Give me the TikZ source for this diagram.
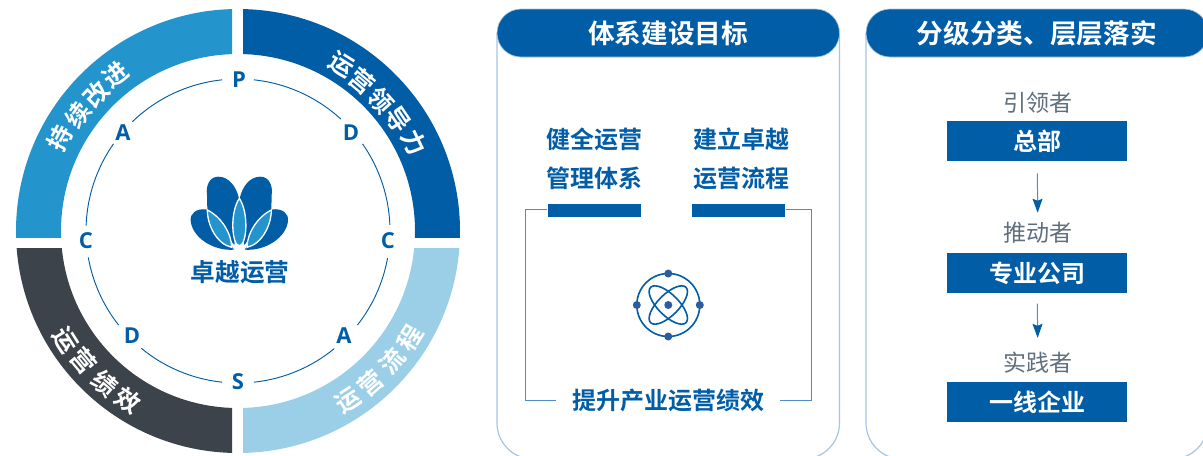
\documentclass[tikz,border=0pt]{standalone}
\usepackage{fontspec}
\usetikzlibrary{arrows.meta}
\setmainfont{Noto Sans CJK SC}[BoldFont={* Bold}]
\newfontfamily\latinb{Open Sans}[BoldFont={* Bold}]
\definecolor{mainblue}{HTML}{005DA6}
\definecolor{midblue}{HTML}{2394CC}
\definecolor{paleblue}{HTML}{9BCFE7}
\definecolor{darkslate}{HTML}{3C434B}
\definecolor{greytext}{HTML}{5F6F7F}
\definecolor{panelline}{HTML}{A5C5E0}
\definecolor{frameline}{HTML}{4F8CC4}
\definecolor{dotblue}{HTML}{2B5C9E}
\def\ringfill#1#2#3#4#5{%
  \begin{scope}
    \clip (#2,#3) rectangle (#4,#5);
    \fill[#1,even odd rule] (238,231) circle (222) (238,231) circle (177);
  \end{scope}}
\tikzset{
  x=0.75pt,y=-0.75pt,
  ringtext/.style={font=\fontsize{18.5}{20}\selectfont\bfseries,text=white,inner sep=0pt},
  pdca/.style={font=\latinb\fontsize{16.5}{18}\selectfont\bfseries,text=mainblue,inner sep=0pt},
  thinarc/.style={draw=mainblue,line width=0.7pt},
  header/.style={fill=mainblue,draw=panelline,line width=0.5pt,rounded corners=18pt},
  headtext/.style={font=\fontsize{20}{22}\selectfont\bfseries,text=white,inner sep=0pt},
  bluetext/.style={font=\fontsize{18}{20}\selectfont\bfseries,text=mainblue,inner sep=0pt},
  brandtext/.style={font=\fontsize{18.5}{20}\selectfont\bfseries,text=mainblue,inner sep=0pt},
  panel/.style={draw=panelline,line width=0.9pt,rounded corners=27pt},
  framel/.style={draw=frameline,line width=0.75pt},
  role/.style={font=\fontsize{17.3}{20}\selectfont,text=greytext,inner sep=0pt,minimum height=18pt},
  rolebox/.style={fill=mainblue,text=white,font=\fontsize{18}{20}\selectfont\bfseries,inner sep=0pt,minimum width=135pt,minimum height=30pt},
  flowarrow/.style={draw=frameline,line width=0.75pt,-{Stealth[length=10.5pt,width=7.5pt,inset=1.5pt,color=mainblue]}},
  darkpetal/.style={fill=mainblue},
  lightpetal/.style={fill=midblue,draw=white,line width=1pt},
}
\begin{document}
\begin{tikzpicture}
\useasboundingbox (0,0) rectangle (1203,455);
\clip (0,0) rectangle (1203,455);
% ring
\ringfill{midblue}{0}{0}{232}{237}
\ringfill{mainblue}{243}{0}{480}{237}
\ringfill{darkslate}{0}{248}{232}{455}
\ringfill{paleblue}{243}{248}{480}{455}
% ring texts
\node[ringtext,rotate=62] (t1) at (60,138) {持};
\node[ringtext,rotate=54] (t2) at (78,115) {续};
\node[ringtext,rotate=46] (t3) at (96,94) {改};
\node[ringtext,rotate=38] (t4) at (116,75) {进};
\node[ringtext,rotate=-32] (r1) at (342,65) {运};
\node[ringtext,rotate=-40] (r2) at (362,81) {营};
\node[ringtext,rotate=-48] (r3) at (381,100) {领};
\node[ringtext,rotate=-56] (r4) at (398,120) {导};
\node[ringtext,rotate=-64] (r5) at (414,143) {力};
\node[ringtext,rotate=33] (f1) at (348,400) {运};
\node[ringtext,rotate=41] (f2) at (371,383) {营};
\node[ringtext,rotate=50] (f3) at (392,361) {流};
\node[ringtext,rotate=58] (f4) at (410,338) {程};
\node[ringtext,rotate=-58] (x1) at (65,340) {运};
\node[ringtext,rotate=-50] (x2) at (84,361) {营};
\node[ringtext,rotate=-41] (x3) at (105,383) {绩};
\node[ringtext,rotate=-33] (x4) at (128,400) {效};
% thin arcs
\foreach \a/\b in {-84/-47.4,-35/-2.3,10.3/38.2,50.7/84,96/129.5,141.8/170,182/215,226/264}
  \draw[thinarc] (238,231) ++(\a:152) arc[start angle=\a,end angle=\b,radius=152];
% PDCA letters
\node[pdca] (p1) at (239,80) {P};
\node[pdca] (d1) at (351,133) {D};
\node[pdca] (c1) at (388,241) {C};
\node[pdca] (a1) at (344,336) {A};
\node[pdca] (s1) at (238,382) {S};
\node[pdca] (d2) at (132,336) {D};
\node[pdca] (c2) at (86,241) {C};
\node[pdca] (a2) at (123,133) {A};
% lotus
\begin{scope}[shift={(150,150)},x=0.25pt,y=-0.25pt]
  \foreach \s in {1,-1}{
  \begin{scope}[shift={(268,0)},xscale=\s]
    \fill[darkpetal] (-1,146) .. controls (-8,112) and (-30,80) .. (-63,80)
       .. controls (-90,80) and (-101,108) .. (-97,135) -- (-96,180) -- (-15,285) -- cycle;
    \fill[darkpetal] (-98,178) .. controls (-130,175) and (-148,190) .. (-146,212)
       .. controls (-142,262) and (-78,304) .. (-16,299) -- cycle;
    \draw[lightpetal] (-96,180) .. controls (-55,200) and (-23,250) .. (-23,292)
       .. controls (-68,282) and (-96,225) .. (-96,180) -- cycle;
  \end{scope}}
  \draw[lightpetal] (268,145) .. controls (238,190) and (246,287) .. (268,287)
     .. controls (290,287) and (298,190) .. (268,145) -- cycle;
\end{scope}
\node[brandtext] (brand) at (240,272) {卓越运营};
% panel 1
\draw[panel] (497,33) -- (497,459) -- (839.5,459) -- (839.5,33);
\fill[header] (497,9) rectangle (839.5,57);
\node[headtext] (h1) at (668,33) {体系建设目标};
\node[bluetext] (g1) at (594,139) {健全运营};
\node[bluetext] (g2) at (594,178) {管理体系};
\node[bluetext] (g3) at (741.7,139) {建立卓越};
\node[bluetext] (g4) at (741.7,178) {运营流程};
\node[fill=mainblue,minimum width=70.2pt,minimum height=9.8pt,inner sep=0pt] (bar1) at (594.5,210.2) {};
\node[fill=mainblue,minimum width=70.2pt,minimum height=9.8pt,inner sep=0pt] (bar2) at (738.5,210.2) {};
\node[bluetext] (goal) at (668,400) {提升产业运营绩效};
\draw[framel] (bar1.west |- 525,209.5) -| (525,400.5) -- (556,400.5);
\draw[framel] (bar2.east |- 811,209.5) -| (811,400.5) -- (780,400.5);
% atom icon
\begin{scope}[shift={(668.3,305)}]
  \draw[mainblue,line width=1.2pt] (0,0) circle (31.5);
  \draw[mainblue,line width=1.2pt,rotate=45] (0,0) ellipse (25 and 10.5);
  \draw[mainblue,line width=1.2pt,rotate=-45] (0,0) ellipse (25 and 10.5);
  \foreach \p in {(0,0),(31.5,0),(-31.5,0),(0,31.5),(0,-31.5)}
    \fill[dotblue] \p circle (4);
\end{scope}
% panel 2
\draw[panel] (866,33) -- (866,459) -- (1208,459) -- (1208,33);
\fill[header] (866,9) rectangle (1208,57);
\node[headtext] (h2) at (1036.7,33) {分级分类、层层落实};
\node[role] (l1) at (1037.7,103) {引领者};
\node[rolebox] (b1) at (1037.3,141) {\raisebox{-3.8pt}{总部}};
\node[role] (l2) at (1037.7,233) {推动者};
\node[rolebox] (b2) at (1037.3,273) {专业公司};
\node[role] (l3) at (1037.7,362.5) {实践者};
\node[rolebox] (b3) at (1037.3,402) {一线企业};
\draw[flowarrow,shorten <=9pt,shorten >=6pt] (b1.south) -- (l2.north);
\draw[flowarrow,shorten <=7.7pt,shorten >=9.3pt] (b2.south) -- (l3.north);
\end{tikzpicture}
\end{document}
